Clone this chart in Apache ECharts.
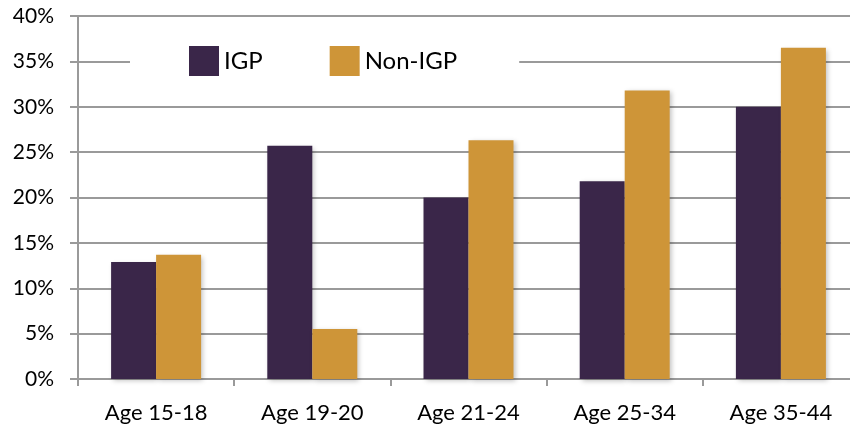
<!DOCTYPE html>
<html>
<head>
<meta charset="utf-8">
<script src="https://cdn.jsdelivr.net/npm/echarts@6/dist/echarts.min.js"></script>
<style>html,body{margin:0;padding:0;background:#fff}#c{width:850px;height:433px}</style>
</head>
<body>
<div id="c"></div>
<script>
const categories = ['Age 15-18', 'Age 19-20', 'Age 21-24', 'Age 25-34', 'Age 35-44'];
const igp = [12.9, 25.7, 20.0, 21.8, 30.0];
const nonIgp = [13.7, 5.5, 26.3, 31.8, 36.5];
const yTicks = [0, 5, 10, 15, 20, 25, 30, 35, 40];

const chart = echarts.init(document.getElementById('c'));
const font = 'Lato, "Open Sans", sans-serif';
const shadow = {shadowBlur: 5, shadowOffsetX: 2, shadowOffsetY: 2, shadowColor: 'rgba(0,0,0,0.25)'};
chart.setOption({
  animation: false,
  grid: {left: 78, right: -9, top: 16, bottom: 54, outerBoundsMode: 'none', containLabel: false},
  legend: {
    left: 130, top: 39,
    padding: [7, 62, 7, 59],
    backgroundColor: '#fff',
    itemWidth: 30, itemHeight: 30, itemGap: 67,
    icon: 'rect',
    textStyle: {fontFamily: font, fontSize: 24, color: '#000', padding: [0, 0, 0, 0]},
    data: ['IGP', 'Non-IGP']
  },
  xAxis: {
    type: 'category',
    data: categories,
    axisLine: {lineStyle: {color: '#9a9a9a', width: 2}},
    axisTick: {show: true, length: 7, lineStyle: {color: '#9a9a9a', width: 2}},
    axisLabel: {fontFamily: font, fontSize: 22, color: '#000', margin: 23}
  },
  yAxis: {
    type: 'value', min: 0, max: 40, interval: 5,
    axisLine: {show: true, lineStyle: {color: '#9a9a9a', width: 2}},
    axisTick: {show: true, length: 8, lineStyle: {color: '#9a9a9a', width: 2}},
    splitLine: {lineStyle: {color: '#9a9a9a', width: 2}},
    axisLabel: {fontFamily: font, fontSize: 21, color: '#000', margin: 24,
      formatter: v => yTicks.includes(v) ? v + '%' : ''}
  },
  series: [
    {name: 'IGP', type: 'bar', data: igp, barWidth: 45, barGap: '0%',
      itemStyle: Object.assign({color: '#3A2649'}, shadow)},
    {name: 'Non-IGP', type: 'bar', data: nonIgp, barWidth: 45,
      itemStyle: Object.assign({color: '#CE9538'}, shadow)}
  ]
});
</script>
</body>
</html>
